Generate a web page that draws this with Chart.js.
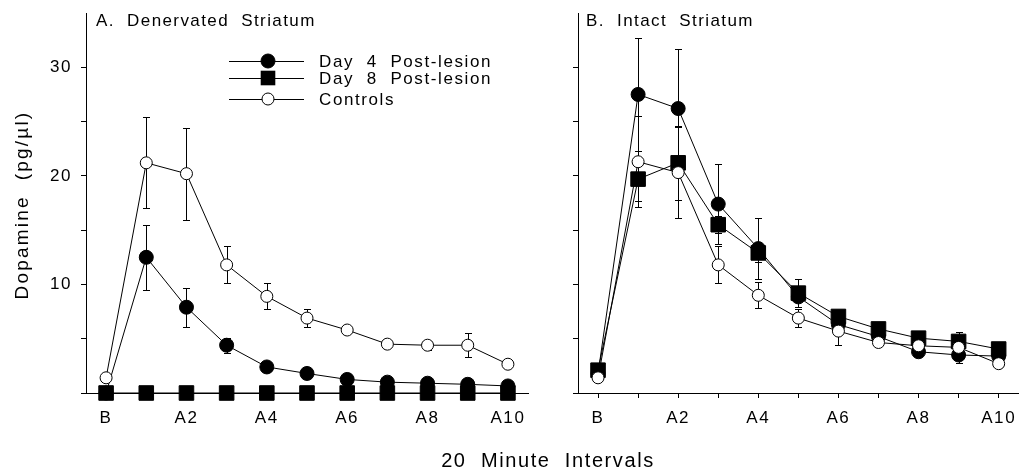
<!DOCTYPE html>
<html>
<head>
<meta charset="utf-8">
<script src="https://cdn.jsdelivr.net/npm/chart.js@4.4.1/dist/chart.umd.min.js"></script>
<style>
html,body{margin:0;padding:0;background:#fff;}
#wrap{position:relative;width:1020px;height:471px;overflow:hidden;font-family:"Liberation Sans",Arial,Helvetica,sans-serif;color:#000;}
canvas{position:absolute;top:0;}
.t{position:absolute;white-space:pre;line-height:1;color:#000;}
svg{position:absolute;left:0;top:0;}
</style>
</head>
<body>
<div id="wrap">
<canvas id="c1" width="540" height="471" style="left:0"></canvas>
<canvas id="c2" width="490" height="471" style="left:540px"></canvas>

<div class="t" style="left:96px;top:12px;font-size:17px;letter-spacing:1.4px">A.  Denervated  Striatum</div>
<div class="t" style="left:586px;top:12px;font-size:17px;letter-spacing:1.4px">B.  Intact  Striatum</div>

<svg width="1020" height="471" id="leg"></svg>
<div class="t" id="l1" style="left:319px;font-size:17px;letter-spacing:1.6px"></div>
<div class="t" id="l2" style="left:319px;font-size:17px;letter-spacing:1.6px"></div>
<div class="t" id="l3" style="left:319px;font-size:17px;letter-spacing:1.6px"></div>

<div class="t" style="left:21px;top:205px;font-size:19px;letter-spacing:2.2px;transform:translate(-50%,-50%) rotate(-90deg)">Dopamine  (pg/µl)</div>
<div class="t" style="left:548px;top:450px;font-size:20px;letter-spacing:1.6px;transform:translateX(-50%)">20  Minute  Intervals</div>
</div>

<script>
// ---------- data ----------
const categories = ['B','A1','A2','A3','A4','A5','A6','A7','A8','A9','A10'];
const yTickLabels = [10, 20, 30];
const seriesNames = ['Day  4  Post-lesion', 'Day  8  Post-lesion', 'Controls'];

// A. Denervated striatum
const denDay4     = [0, 12.5, 7.9, 4.4, 2.4, 1.8, 1.25, 1.0, 0.9, 0.8, 0.65];
const denDay4Err  = [0, 3.0, 1.8, 0.7, 0, 0, 0, 0, 0, 0, 0];
const denDay8     = [0, 0, 0, 0, 0, 0, 0, 0, 0, 0, 0];
const denDay8Err  = [0, 0, 0, 0, 0, 0, 0, 0, 0, 0, 0];
const denCtrl     = [1.4, 21.2, 20.2, 11.8, 8.9, 6.9, 5.8, 4.5, 4.4, 4.4, 2.65];
const denCtrlErr  = [0, 4.2, 4.25, 1.7, 1.2, 0.8, 0.4, 0.3, 0.4, 1.1, 0.3];

// B. Intact striatum
const intDay4     = [1.8, 27.5, 26.2, 17.4, 13.3, 8.85, 6.3, 5.2, 3.8, 3.5, 3.4];
const intDay4Err  = [0, 5.2, 5.5, 3.7, 2.8, 0.4, 0.4, 0.3, 0.3, 0.3, 0.3];
const intDay8     = [2.1, 19.7, 21.2, 15.5, 12.9, 9.2, 7.05, 5.9, 5.05, 4.75, 4.05];
const intDay8Err  = [0, 2.0, 3.4, 0.8, 0.8, 1.3, 0.4, 0.3, 0.3, 0.3, 0.3];
const intCtrl     = [1.4, 21.3, 20.3, 11.8, 9.0, 6.9, 5.7, 4.65, 4.35, 4.2, 2.7];
const intCtrlErr  = [0, 4.2, 4.2, 1.7, 1.2, 0.8, 1.3, 0.3, 0.4, 1.4, 0.3];

// ---------- helpers ----------
const FONT = '"Liberation Sans", Arial, Helvetica, sans-serif';

const spacingPlugin = {
  id: 'spacing',
  beforeLayout(chart){ chart.ctx.letterSpacing = '1.6px'; },
  beforeDraw(chart){ chart.ctx.letterSpacing = '1.6px'; }
};

const errorBars = {
  id: 'errorBars',
  beforeDatasetsDraw(chart){
    const ctx = chart.ctx, ys = chart.scales.y;
    chart.data.datasets.forEach((ds, i) => {
      if (!ds.err) return;
      const meta = chart.getDatasetMeta(i);
      ctx.save();
      ctx.strokeStyle = '#000';
      ctx.lineWidth = 1;
      meta.data.forEach((pt, j) => {
        const e = ds.err[j];
        if (!e) return;
        const v = ds.data[j];
        const yt = Math.round(ys.getPixelForValue(v + e)) + 0.5;
        const yb = Math.round(ys.getPixelForValue(Math.max(v - e, 0))) + 0.5;
        const x = Math.round(pt.x) + 0.5;
        ctx.beginPath();
        ctx.moveTo(x, yt); ctx.lineTo(x, yb);
        ctx.moveTo(x - 3.5, yt); ctx.lineTo(x + 3.5, yt);
        if (v - e > 0) { ctx.moveTo(x - 3.5, yb); ctx.lineTo(x + 3.5, yb); }
        ctx.stroke();
      });
      ctx.restore();
    });
  }
};

function makeDatasets(ctrl, ctrlErr, d4, d4Err, d8, d8Err){
  const base = {borderColor:'#000', borderWidth:1, tension:0, clip:false, pointBorderWidth:1, pointBorderColor:'#000'};
  return [
    Object.assign({}, base, {label:seriesNames[2], data:ctrl, err:ctrlErr, pointStyle:'circle', pointRadius:6, pointBackgroundColor:'#fff'}),
    Object.assign({}, base, {label:seriesNames[0], data:d4, err:d4Err, pointStyle:'circle', pointRadius:7, pointBackgroundColor:'#000'}),
    Object.assign({}, base, {label:seriesNames[1], data:d8, err:d8Err, pointStyle:'rect', pointRadius:10.3, pointBackgroundColor:'#000'})
  ];
}

function makeChart(id, datasets, yWidth, padRight, showYLabels){
  return new Chart(document.getElementById(id), {
    type: 'line',
    data: {labels: categories, datasets},
    plugins: [spacingPlugin, errorBars],
    options: {
      responsive: false,
      animation: false,
      events: [],
      layout: {padding: {left:0, top:13, right:padRight, bottom:0}},
      plugins: {legend:{display:false}, tooltip:{enabled:false}, title:{display:false}},
      scales: {
        x: {
          type: 'category',
          offset: true,
          grid: {display:true, drawOnChartArea:false, drawTicks:true, tickLength:5, color:'#000', offset:false},
          border: {display:true, color:'#000', width:1},
          ticks: {
            autoSkip:false, maxRotation:0, color:'#000', padding:10,
            font:{family:FONT, size:17},
            callback:(v, i) => (i % 2 === 0 ? categories[i] : '')
          },
          afterFit: s => { s.height = 78; s.paddingLeft = 0; s.paddingRight = 0; }
        },
        y: {
          min: 0, max: 35,
          grid: {display:true, drawOnChartArea:false, drawTicks:true, tickLength:5, color:'#000'},
          border: {display:true, color:'#000', width:1},
          ticks: {
            stepSize: 5, color:'#000', padding:9,
            font:{family:FONT, size:17},
            callback: v => (showYLabels && yTickLabels.includes(v) ? String(v) : '')
          },
          afterBuildTicks: a => { a.ticks = a.ticks.filter(t => t.value < 35); },
          afterFit: s => { s.width = yWidth; s.paddingTop = 0; s.paddingBottom = 0; }
        }
      }
    }
  });
}

makeChart('c1', makeDatasets(denCtrl, denCtrlErr, denDay4, denDay4Err, denDay8, denDay8Err), 86, 12, true);
makeChart('c2', makeDatasets(intCtrl, intCtrlErr, intDay4, intDay4Err, intDay8, intDay8Err), 38, 2, false);

// ---------- legend ----------
const legendRows = [
  {name: seriesNames[0], y: 61, style: 'circleFill'},
  {name: seriesNames[1], y: 78, style: 'rect'},
  {name: seriesNames[2], y: 99, style: 'circleOpen'}
];
const svg = document.getElementById('leg');
const NS = 'http://www.w3.org/2000/svg';
legendRows.forEach((r, i) => {
  const ln = document.createElementNS(NS, 'line');
  ln.setAttribute('x1', 229); ln.setAttribute('x2', 304);
  ln.setAttribute('y1', r.y + 0.5); ln.setAttribute('y2', r.y + 0.5);
  ln.setAttribute('stroke', '#000'); ln.setAttribute('stroke-width', 1);
  svg.appendChild(ln);
  let m;
  if (r.style === 'rect') {
    m = document.createElementNS(NS, 'rect');
    m.setAttribute('x', 268 - 7.3); m.setAttribute('y', r.y - 7.3);
    m.setAttribute('width', 14.6); m.setAttribute('height', 14.6);
    m.setAttribute('fill', '#000');
  } else {
    m = document.createElementNS(NS, 'circle');
    m.setAttribute('cx', 268); m.setAttribute('cy', r.y);
    m.setAttribute('r', r.style === 'circleFill' ? 7 : 6);
    m.setAttribute('fill', r.style === 'circleFill' ? '#000' : '#fff');
    m.setAttribute('stroke', '#000'); m.setAttribute('stroke-width', 1);
  }
  svg.appendChild(m);
  const lab = document.getElementById('l' + (i + 1));
  lab.textContent = r.name;
  lab.style.top = (r.y - 8.5) + 'px';
});
</script>
</body>
</html>
